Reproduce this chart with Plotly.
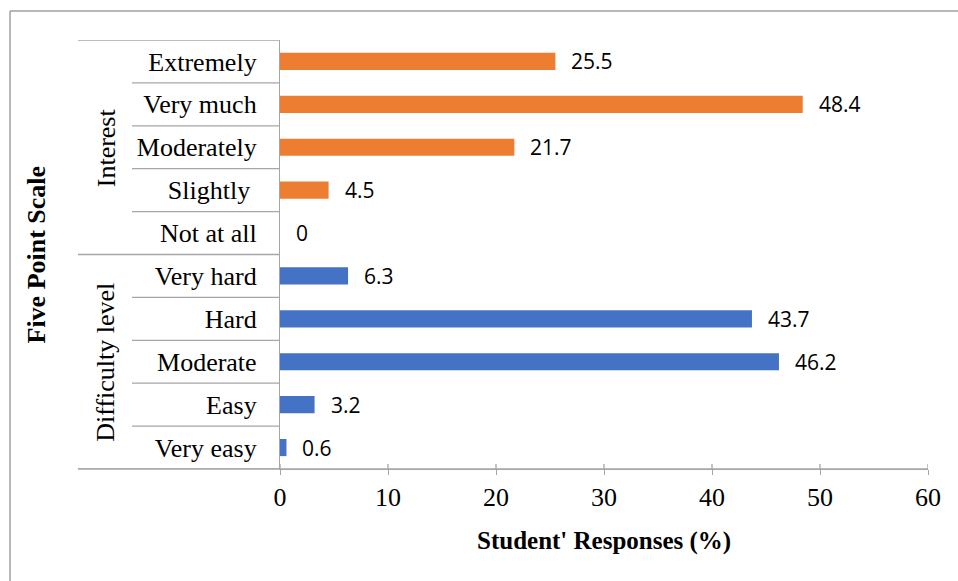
import plotly.graph_objects as go

# ---- data ----
interest_cats = ["Extremely", "Very much", "Moderately", "Slightly\u00a0", "Not at all"]
interest_vals = [25.5, 48.4, 21.7, 4.5, 0]
difficulty_cats = ["Very hard", "Hard", "Moderate", "Easy", "Very easy"]
difficulty_vals = [6.3, 43.7, 46.2, 3.2, 0.6]
group_names = ["Interest", "Difficulty level"]
x_ticks = [0, 10, 20, 30, 40, 50, 60]
x_title = "Student' Responses (%)"
y_title = "Five Point Scale"

ORANGE = "#ED7D31"
BLUE = "#4472C4"
GRID = "#A6A6A6"
SERIF = "Liberation Serif"
SANS = "Open Sans"

all_cats = interest_cats + difficulty_cats
W, H = 958, 581
ML, MR, MT, MB = 280, 30, 40, 112
PW = W - ML - MR
PH = H - MT - MB


def px_x(px):
    return (px - ML) / PW


def px_y(py):
    return (H - MB - py) / PH


fig = go.Figure()
fig.add_trace(go.Bar(y=interest_cats, x=interest_vals, orientation="h",
                     marker=dict(color=ORANGE, line=dict(width=0)), width=0.4,
                     showlegend=False, hoverinfo="x+y"))
fig.add_trace(go.Bar(y=difficulty_cats, x=difficulty_vals, orientation="h",
                     marker=dict(color=BLUE, line=dict(width=0)), width=0.4,
                     showlegend=False, hoverinfo="x+y"))

annotations = []
# data labels
for cats, vals in ((interest_cats, interest_vals), (difficulty_cats, difficulty_vals)):
    for c, v in zip(cats, vals):
        annotations.append(dict(x=v, y=c, xref="x", yref="y", text=str(v),
                                showarrow=False, xanchor="left", yanchor="middle",
                                xshift=14, font=dict(family=SANS, size=21, color="#000")))

# group labels
n = len(interest_cats)
annotations.append(dict(x=px_x(106), y=(n - 1) / 2, xref="paper", yref="y",
                        text=group_names[0], textangle=-90, showarrow=False,
                        xanchor="center", yanchor="middle",
                        font=dict(family=SERIF, size=26, color="#000")))
annotations.append(dict(x=px_x(106), y=n + (len(difficulty_cats) - 1) / 2, xref="paper", yref="y",
                        text=group_names[1], textangle=-90, showarrow=False,
                        xanchor="center", yanchor="middle",
                        font=dict(family=SERIF, size=26, color="#000")))
# axis titles
annotations.append(dict(x=px_x(36), y=0.5, xref="paper", yref="paper",
                        text="<b>" + y_title + "</b>", textangle=-90, showarrow=False,
                        xanchor="center", yanchor="middle",
                        font=dict(family=SERIF, size=26, color="#000")))
annotations.append(dict(x=0.5, y=px_y(541), xref="paper", yref="paper",
                        text="<b>" + x_title + "</b>", showarrow=False,
                        xanchor="center", yanchor="middle",
                        font=dict(family=SERIF, size=25, color="#000")))

shapes = []
line = dict(color=GRID, width=1.3)
# row separators in the label area
total = len(all_cats)
for i in range(total + 1):
    b = i - 0.5
    if i in (0, n, total):
        x0 = px_x(78)
    else:
        x0 = px_x(132)
    shapes.append(dict(type="line", xref="paper", yref="y", x0=x0, x1=0,
                       y0=b, y1=b, line=line))
# bottom axis line extension to the left
shapes.append(dict(type="line", xref="paper", yref="paper", x0=px_x(78), x1=1,
                   y0=0, y1=0, line=line))
# upper half of crossing ticks
for t in x_ticks:
    shapes.append(dict(type="line", xref="x", yref="paper", x0=t, x1=t,
                       y0=0, y1=5 / PH, line=line))
# outer border (top and left)
shapes.append(dict(type="line", xref="paper", yref="paper", x0=px_x(10), x1=px_x(W + 5),
                   y0=px_y(11), y1=px_y(11), line=dict(color="#A0A0A0", width=1.5)))
shapes.append(dict(type="line", xref="paper", yref="paper", x0=px_x(10), x1=px_x(10),
                   y0=px_y(11), y1=px_y(H + 5), line=dict(color="#A0A0A0", width=1.5)))

fig.update_layout(
    width=W, height=H,
    margin=dict(l=ML, r=MR, t=MT, b=MB, pad=0),
    plot_bgcolor="white", paper_bgcolor="white",
    bargap=0.6,
    annotations=annotations,
    shapes=shapes,
    xaxis=dict(range=[0, 60], tickvals=x_ticks, ticktext=[str(t) for t in x_ticks],
               showgrid=False, zeroline=False, showline=True, linecolor=GRID, linewidth=1.3,
               ticks="outside", ticklen=5, tickcolor=GRID, tickwidth=1.3,
               tickfont=dict(family=SERIF, size=26, color="#000"), fixedrange=True),
    yaxis=dict(type="category", categoryorder="array", categoryarray=all_cats,
               range=[total - 0.5, -0.5], showgrid=False, zeroline=False,
               showline=True, linecolor=GRID, linewidth=1.3, ticks="",
               ticklabelstandoff=17,
               tickfont=dict(family=SERIF, size=26, color="#000"), fixedrange=True),
    font=dict(family=SERIF, color="#000"),
)

fig.write_html("out.html", config={"displayModeBar": False})
